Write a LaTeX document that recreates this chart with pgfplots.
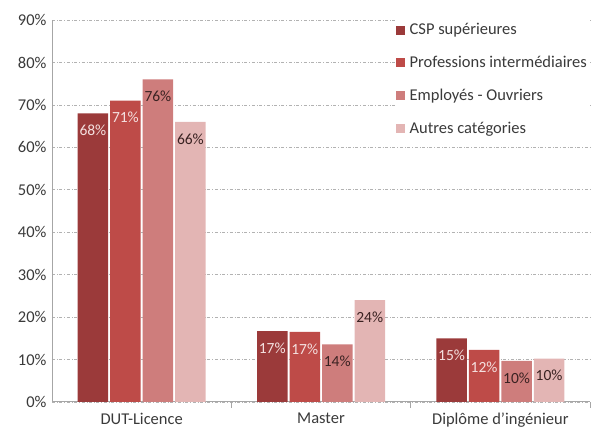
\documentclass[border=0pt]{standalone}
\usepackage{pgfplots}
\pgfplotsset{compat=1.18}
\usepackage{fontspec}
\setmainfont{Carlito}
\definecolor{cA}{HTML}{9B3A3A}
\definecolor{cB}{HTML}{BE4B48}
\definecolor{cC}{HTML}{CE7D7C}
\definecolor{cD}{HTML}{E3B5B4}
\definecolor{txt}{HTML}{3A3A3A}
\definecolor{lightlab}{HTML}{F4E0DF}
\definecolor{darklab}{HTML}{3A2222}
\begin{document}
\begin{tikzpicture}
\begin{axis}[
  scale only axis,
  width=538pt, height=382pt,
  ybar=2pt, bar width=30.5pt,
  xmin=-0.5, xmax=2.5,
  ymin=0, ymax=90,
  ytick={0,10,...,90},
  yticklabel={\pgfmathprintnumber{\tick}\%},
  xtick={0,1,2},
  xticklabels={DUT-Licence, Master, Diplôme d'ingénieur},
  major x tick style={draw=none},
  major y tick style={draw=none},
  extra x ticks={0.5,1.5,2.5},
  extra x tick labels={},
  extra x tick style={major tick length=6pt, tick align=outside, grid=none, major x tick style={draw=gray!70, line width=0.8pt}},
  axis x line*=bottom, axis y line*=left,
  axis line style={draw=gray!70, line width=1pt, -},
  ymajorgrids,
  grid style={gray!60, dash dot, line width=0.6pt},
  tick label style={font=\fontsize{16.5}{18}\selectfont, text=txt},
  yticklabel style={xshift=-2pt},
  /pgf/number format/assume math mode=true,
  xticklabel style={yshift=-3pt},
  nodes near coords={\pgfmathprintnumber[fixed,precision=0]{\pgfplotspointmeta}\%},
  every node near coord/.append style={anchor=center, yshift=-17pt, font=\fontsize{15.5}{17}\selectfont},
  legend style={at={(1,1.012)}, anchor=north east, draw=none, fill=white,
    font=\fontsize{16.5}{18}\selectfont, text=txt, row sep=16pt, inner xsep=1pt, inner ysep=6pt},
  legend cell align=left,
  legend image code/.code={\fill[#1] (0pt,-4.5pt) rectangle (9pt,4.5pt); \path (12pt,0pt);},
]
\addplot[fill=cA, draw=none, nodes near coords style={text=lightlab}] coordinates {(0,68) (1,16.7) (2,15.0)};
\addplot[fill=cB, draw=none, nodes near coords style={text=lightlab}] coordinates {(0,71) (1,16.5) (2,12.3)};
\addplot[fill=cC, draw=none, nodes near coords style={text=darklab}] coordinates {(0,76) (1,13.6) (2,9.7)};
\addplot[fill=cD, draw=none, nodes near coords style={text=darklab}] coordinates {(0,66) (1,24.0) (2,10.2)};
\legend{CSP supérieures, Professions intermédiaires, Employés - Ouvriers, Autres catégories}
\coordinate (bl) at (rel axis cs:0,0);
\coordinate (tr) at (rel axis cs:1,1);
\end{axis}
\pgfresetboundingbox
\path[use as bounding box] ([xshift=-52pt,yshift=-30pt]bl) rectangle ([xshift=5pt,yshift=20pt]tr);
\end{tikzpicture}
\end{document}
